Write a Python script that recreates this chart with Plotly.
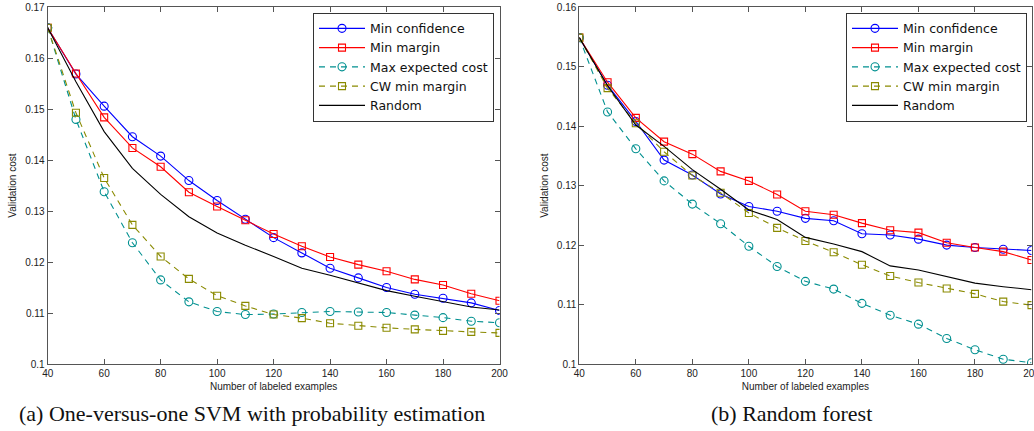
import plotly.graph_objects as go

# ---------------- data ----------------
n_labeled = [40, 50, 60, 70, 80, 90, 100, 110, 120, 130, 140, 150, 160, 170, 180, 190, 200]

# (a) One-versus-one SVM with probability estimation
svm_min_conf = [0.1660, 0.1569, 0.1506, 0.1446, 0.1408, 0.1360, 0.1321, 0.1284, 0.1248,
                0.1218, 0.1188, 0.1169, 0.1150, 0.1137, 0.1129, 0.1120, 0.1105]
svm_min_margin = [0.1660, 0.1570, 0.1484, 0.1424, 0.1387, 0.1337, 0.1309, 0.1282, 0.1255,
                  0.1231, 0.1210, 0.1195, 0.1182, 0.1166, 0.1155, 0.1138, 0.1124]
svm_max_exp_cost = [0.1660, 0.1480, 0.1338, 0.1238, 0.1165, 0.1122, 0.1103, 0.1097, 0.1098,
                    0.1101, 0.1103, 0.1102, 0.1101, 0.1096, 0.1091, 0.1084, 0.1081]
svm_cw_min_margin = [0.1660, 0.1493, 0.1365, 0.1273, 0.1211, 0.1167, 0.1134, 0.1114, 0.1097,
                     0.1090, 0.1080, 0.1075, 0.1071, 0.1068, 0.1065, 0.1063, 0.1061]
svm_random = [0.1660, 0.1554, 0.1456, 0.1384, 0.1333, 0.1289, 0.1257, 0.1233, 0.1211,
              0.1188, 0.1174, 0.1159, 0.1144, 0.1133, 0.1123, 0.1112, 0.1106]

# (b) Random forest
rf_min_conf = [0.1549, 0.1469, 0.1408, 0.1343, 0.1318, 0.1286, 0.1265, 0.1257, 0.1245,
               0.1241, 0.1219, 0.1217, 0.1210, 0.1200, 0.1196, 0.1193, 0.1191]
rf_min_margin = [0.1549, 0.1474, 0.1414, 0.1374, 0.1353, 0.1324, 0.1308, 0.1285, 0.1257,
                 0.1251, 0.1237, 0.1225, 0.1221, 0.1204, 0.1196, 0.1189, 0.1175]
rf_max_exp_cost = [0.1549, 0.1424, 0.1362, 0.1308, 0.1269, 0.1236, 0.1198, 0.1164, 0.1139,
                   0.1126, 0.1102, 0.1082, 0.1067, 0.1043, 0.1024, 0.1008, 0.1002]
rf_cw_min_margin = [0.1549, 0.1464, 0.1405, 0.1357, 0.1317, 0.1288, 0.1254, 0.1229, 0.1207,
                    0.1188, 0.1167, 0.1148, 0.1137, 0.1127, 0.1118, 0.1105, 0.1099]
rf_random = [0.1549, 0.1468, 0.1402, 0.1366, 0.1327, 0.1294, 0.1259, 0.1243, 0.1213,
             0.1202, 0.1189, 0.1165, 0.1158, 0.1147, 0.1136, 0.1130, 0.1125]

series_names = ["Min confidence", "Min margin", "Max expected cost", "CW min margin", "Random"]

x_tick_vals = [40, 60, 80, 100, 120, 140, 160, 180, 200]
x_tick_text = ["40", "60", "80", "100", "120", "140", "160", "180", "200"]
y_tick_vals_a = [0.10, 0.11, 0.12, 0.13, 0.14, 0.15, 0.16, 0.17]
y_tick_text_a = ["0.1", "0.11", "0.12", "0.13", "0.14", "0.15", "0.16", "0.17"]
y_tick_vals_b = [0.10, 0.11, 0.12, 0.13, 0.14, 0.15, 0.16]
y_tick_text_b = ["0.1", "0.11", "0.12", "0.13", "0.14", "0.15", "0.16"]

x_title = "Number of labeled examples"
y_title = "Validation cost"
caption_a = "(a) One-versus-one SVM with probability estimation"
caption_b = "(b) Random forest"

# ---------------- styles ----------------
BLUE = "#0000FF"
RED = "#FF0000"
TEAL = "#009090"
OLIVE = "#8A8A00"
BLACK = "#000000"
DASH = "6px,5px"

styles = [
    dict(color=BLUE, dash="solid", symbol="circle-open", size=8),
    dict(color=RED, dash="solid", symbol="square-open", size=7),
    dict(color=TEAL, dash=DASH, symbol="circle-open", size=8),
    dict(color=OLIVE, dash=DASH, symbol="square-open", size=7),
    dict(color=BLACK, dash="solid", symbol=None, size=0),
]

fig = go.Figure()

def add_panel(values, xref, yref, legend_id):
    for name, ys, st in zip(series_names, values, styles):
        kw = dict(
            x=n_labeled, y=ys, name=name, xaxis=xref, yaxis=yref, legend=legend_id,
            line=dict(color=st["color"], width=1.1, dash=st["dash"]),
        )
        if st["symbol"]:
            kw["mode"] = "lines+markers"
            kw["marker"] = dict(symbol=st["symbol"], size=st["size"],
                                color=st["color"], line=dict(color=st["color"], width=1.1))
        else:
            kw["mode"] = "lines"
        fig.add_trace(go.Scatter(**kw))

add_panel([svm_min_conf, svm_min_margin, svm_max_exp_cost, svm_cw_min_margin, svm_random],
          "x", "y", "legend")
add_panel([rf_min_conf, rf_min_margin, rf_max_exp_cost, rf_cw_min_margin, rf_random],
          "x2", "y2", "legend2")

W, H = 1034, 431
AX_COLOR = "#555555"
tick_font = dict(family="Liberation Sans, Arial", size=10, color="#222222")
title_font = dict(family="Liberation Sans, Arial", size=10, color="#222222")

common_x = dict(range=[40, 200], tickvals=x_tick_vals, ticktext=x_tick_text,
                showgrid=False, zeroline=False, showline=True, linecolor=AX_COLOR,
                linewidth=1, mirror="allticks", ticks="inside", ticklen=5,
                tickcolor=AX_COLOR, tickfont=tick_font, automargin=False,
                ticklabeloverflow="allow",
                title=dict(text=x_title, font=title_font, standoff=4))
common_y = dict(showgrid=False, zeroline=False, showline=True, linecolor=AX_COLOR,
                linewidth=1, mirror="allticks", ticks="inside", ticklen=5,
                tickcolor=AX_COLOR, tickfont=tick_font, automargin=False,
                title=dict(text=y_title, font=title_font, standoff=6))

y_dom = [1 - 364 / H, 1 - 7.3 / H]

legend_common = dict(bgcolor="white", bordercolor="#333333", borderwidth=1,
                     font=dict(family="DejaVu Sans", size=12.5, color="#111111"),
                     itemwidth=46, tracegroupgap=0, yanchor="top", xanchor="right",
                     itemclick=False)

fig.update_layout(
    width=W, height=H,
    margin=dict(l=0, r=0, t=0, b=0, autoexpand=False),
    paper_bgcolor="white", plot_bgcolor="white",
    showlegend=True,
    hovermode=False,
    xaxis=dict(domain=[47.7 / W, 499.5 / W], anchor="y", **common_x),
    yaxis=dict(domain=y_dom, anchor="x", range=[0.10, 0.17],
               tickvals=y_tick_vals_a, ticktext=y_tick_text_a, **common_y),
    xaxis2=dict(domain=[579.3 / W, 1031.5 / W], anchor="y2", **common_x),
    yaxis2=dict(domain=y_dom, anchor="x2", range=[0.10, 0.16],
                tickvals=y_tick_vals_b, ticktext=y_tick_text_b, **common_y),
    legend=dict(x=494 / W, y=1 - 12.7 / H, **legend_common),
    legend2=dict(x=1027 / W, y=1 - 12.7 / H, **legend_common),
    annotations=[
        dict(text=caption_a, xref="paper", yref="paper", x=252 / W, y=1 - 413 / H,
             xanchor="center", yanchor="middle", showarrow=False,
             font=dict(family="Liberation Serif, Times New Roman", size=22, color="#111111")),
        dict(text=caption_b, xref="paper", yref="paper", x=791 / W, y=1 - 413 / H,
             xanchor="center", yanchor="middle", showarrow=False,
             font=dict(family="Liberation Serif, Times New Roman", size=22, color="#111111")),
    ],
)

fig.write_html(
    "out.html",
    config={"displayModeBar": False},
    post_script="document.body.style.margin='0';document.body.style.overflow='hidden';",
)
